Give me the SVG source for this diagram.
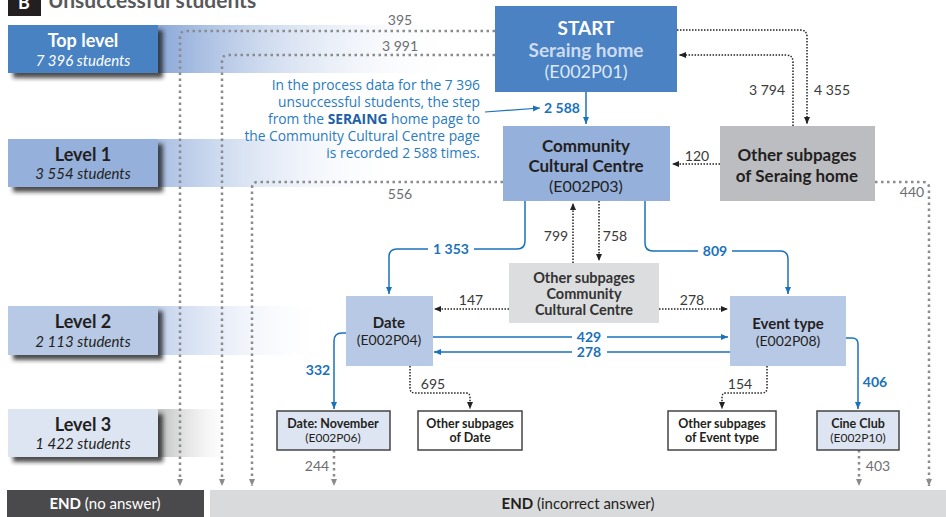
<svg xmlns="http://www.w3.org/2000/svg" width="946" height="517" viewBox="0 0 946 517">
<style>
text{font-family:Lato,"Liberation Sans",sans-serif}
.lvl{font-size:18px;font-weight:700;text-anchor:middle}
.lvs{font-size:15px;font-style:italic;text-anchor:middle}
.nd{font-weight:700;text-anchor:middle}
.code{font-weight:400;text-anchor:middle}
.gl{font-size:14px;fill:#6d6e70;text-anchor:middle}
.kl{font-size:14px;fill:#3a3a3a;text-anchor:middle}
.bl{font-size:14px;fill:#1a72bb;font-weight:700;text-anchor:middle}
.blue{fill:none;stroke:#1a72bb;stroke-width:1.5;marker-end:url(#ab)}
.dk{fill:none;stroke:#222;stroke-width:1.5;stroke-dasharray:1.5 1.5;marker-end:url(#ak)}
.gr{fill:none;stroke:#8a8b8d;stroke-width:2.5;stroke-dasharray:2.5 3.5;stroke-linecap:butt;marker-end:url(#ag)}
.box3{stroke:#444;stroke-width:1.5}
.ann{font-size:13.8px;fill:#2a7bbf;text-anchor:end;font-family:"Open Sans","DejaVu Sans",sans-serif}
</style>
<defs>
<marker id="ab" markerWidth="8" markerHeight="8" refX="7" refY="4" orient="auto" markerUnits="userSpaceOnUse"><path d="M0,1 L7,4 L0,7 Z" fill="#1a72bb"/></marker>
<marker id="ak" markerWidth="8" markerHeight="8" refX="7" refY="4" orient="auto" markerUnits="userSpaceOnUse"><path d="M0,1 L7,4 L0,7 Z" fill="#222"/></marker>
<marker id="ag" markerWidth="8" markerHeight="8" refX="7" refY="4" orient="auto" markerUnits="userSpaceOnUse"><path d="M0,1 L7,4 L0,7 Z" fill="#8a8b8d"/></marker>
<linearGradient id="g0" x1="0" x2="1" y1="0" y2="0"><stop offset="0" stop-color="#8ba8d8"/><stop offset="1" stop-color="#fff" stop-opacity="0"/></linearGradient>
<linearGradient id="g1" x1="0" x2="1" y1="0" y2="0"><stop offset="0" stop-color="#a9bfe3"/><stop offset="1" stop-color="#fff" stop-opacity="0"/></linearGradient>
<linearGradient id="g2" x1="0" x2="1" y1="0" y2="0"><stop offset="0" stop-color="#c3d2ec"/><stop offset="1" stop-color="#fff" stop-opacity="0"/></linearGradient>
<linearGradient id="g3" x1="0" x2="1" y1="0" y2="0"><stop offset="0" stop-color="#bdbebf"/><stop offset="1" stop-color="#fff" stop-opacity="0"/></linearGradient>
<filter id="sh" x="-10%" y="-20%" width="130%" height="160%"><feDropShadow dx="5" dy="5" stdDeviation="2" flood-color="#222" flood-opacity="0.8"/></filter>
</defs>

<g id="title">
<rect x="8" y="-6" width="33" height="22" fill="#231f20"/>
<text x="24" y="9" font-size="18" font-weight="700" fill="#fff" text-anchor="middle">B</text>
<text x="48" y="8" font-size="21" font-weight="700" fill="#58595b">Unsuccessful students</text>
</g>

<g id="bands">
<rect x="158" y="25" width="300" height="48" fill="url(#g0)"/>
<rect x="158" y="139" width="250" height="48" fill="url(#g1)"/>
<rect x="158" y="306" width="170" height="49" fill="url(#g2)"/>
<rect x="158" y="409" width="80" height="48" fill="url(#g3)"/>
</g>

<g id="level-top">
<rect x="8" y="25" width="150" height="48" fill="#4a82c3" filter="url(#sh)"/>
<text class="lvl" x="83" y="47" fill="#fff">Top level</text>
<text class="lvs" x="83" y="66" fill="#fff">7 396 students</text>
</g>
<g id="level-1">
<rect x="8" y="139" width="150" height="48" fill="#95b0db" filter="url(#sh)"/>
<text class="lvl" x="83" y="161" fill="#231f20">Level 1</text>
<text class="lvs" x="83" y="179" fill="#231f20">3 554 students</text>
</g>
<g id="level-2">
<rect x="8" y="306" width="150" height="49" fill="#b8c9e6" filter="url(#sh)"/>
<text class="lvl" x="83" y="328" fill="#231f20">Level 2</text>
<text class="lvs" x="83" y="347" fill="#231f20">2 113 students</text>
</g>
<g id="level-3">
<rect x="8" y="409" width="150" height="48" fill="#dde5f3" filter="url(#sh)"/>
<text class="lvl" x="83" y="431" fill="#231f20">Level 3</text>
<text class="lvs" x="83" y="449" fill="#231f20">1 422 students</text>
</g>

<g id="end-none">
<rect x="7" y="490" width="197" height="27" fill="#4a4a4c"/>
<text x="105" y="509" font-size="15" fill="#fff" text-anchor="middle"><tspan font-weight="700">END</tspan> (no answer)</text>
</g>
<g id="end-incorrect">
<rect x="210" y="490" width="736" height="27" fill="#d9dadc"/>
<text x="578" y="509" font-size="15" fill="#231f20" text-anchor="middle"><tspan font-weight="700">END</tspan> (incorrect answer)</text>
</g>

<g id="connectors">
<path class="blue" d="M586,92 V124"/>
<path class="dk" d="M677,30 H800 Q807,30 807,37 V124"/>
<path class="dk" d="M793,126 V62 Q793,55 786,55 H679"/>
<path class="dk" d="M720,164 H672"/>
<path class="gr" d="M495,31 H186 Q180,31 180,37 V486"/>
<path class="gr" d="M495,55 H228 Q222,55 222,61 V486"/>
<path class="gr" d="M503,182 H258 Q252,182 252,188 V486"/>
<path class="gr" d="M875,182 H923 Q929,182 929,188 V486"/>
<path class="blue" d="M525,201 V241 Q525,249 517,249 H474 M428,249 H397 Q389,249 389,257 V294"/>
<path class="blue" d="M645,201 V243 Q645,251 653,251 H698 M732,251 H780 Q788,251 788,259 V294"/>
<path class="dk" d="M573,263 V203"/>
<path class="dk" d="M599,201 V261"/>
<path class="dk" d="M509,309 H434"/>
<path class="dk" d="M659,309 H728"/>
<path class="blue" d="M432,337 H572 M607,337 H728"/>
<path class="blue" d="M730,352 H607 M572,352 H434"/>
<path class="blue" d="M346,333 H342 Q334,333 334,341 V409"/>
<path class="dk" d="M410,366 V388 Q410,393 415,393 H466 Q470,393 470,397 V409"/>
<path class="dk" d="M767,366 V388 Q767,393 762,393 H726 Q722,393 722,397 V409"/>
<path class="blue" d="M846,338 H852 Q858,338 858,344 V409"/>
<path class="gr" d="M334,450 V486"/>
<path class="gr" d="M859,450 V486"/>
<path d="M485,112 L540,108" fill="none" stroke="#1a72bb" stroke-width="1.2" marker-end="url(#ab)"/>
</g>

<g id="connector-labels">
<text class="gl" x="400" y="25">395</text>
<text class="gl" x="400" y="51">3 991</text>
<text class="gl" x="400" y="199">556</text>
<text class="gl" x="912" y="197">440</text>
<text class="gl" x="317" y="471">244</text>
<text class="gl" x="878" y="471">403</text>
<text class="kl" x="767" y="95">3 794</text>
<text class="kl" x="832" y="95">4 355</text>
<text class="kl" x="697" y="161">120</text>
<text class="kl" x="556" y="241">799</text>
<text class="kl" x="615" y="241">758</text>
<text class="kl" x="471" y="305">147</text>
<text class="kl" x="692" y="305">278</text>
<text class="kl" x="433" y="389">695</text>
<text class="kl" x="740" y="389">154</text>
<text class="bl" x="562" y="113">2 588</text>
<text class="bl" x="451" y="254">1 353</text>
<text class="bl" x="715" y="256">809</text>
<text class="bl" x="589" y="341.5" font-size="13.5">429</text>
<text class="bl" x="589" y="357" font-size="13.5">278</text>
<text class="bl" x="318" y="375">332</text>
<text class="bl" x="875" y="387">406</text>
</g>

<g id="annotation">
<text class="ann" x="480" y="90">In the process data for the 7 396</text>
<text class="ann" x="480" y="107">unsuccessful students, the step</text>
<text class="ann" x="480" y="124">from the <tspan font-weight="700" fill="#1e5fa8">SERAING</tspan> home page to</text>
<text class="ann" x="480" y="141">the Community Cultural Centre page</text>
<text class="ann" x="480" y="158">is recorded 2 588 times.</text>
</g>

<g id="start">
<rect x="495" y="6" width="182" height="86" fill="#4a82c3"/>
<text class="nd" x="586" y="35" font-size="19" fill="#fff">START</text>
<text class="nd" x="586" y="57" font-size="19" fill="#cddbf0">Seraing home</text>
<text class="code" x="586" y="78" font-size="18" fill="#dfe8f5">(E002P01)</text>
</g>
<g id="ccc">
<rect x="503" y="126" width="167" height="75" fill="#95b0db"/>
<text class="nd" x="586" y="152" font-size="17" fill="#231f20">Community</text>
<text class="nd" x="586" y="172" font-size="17" fill="#231f20">Cultural Centre</text>
<text class="code" x="586" y="192" font-size="16" fill="#231f20">(E002P03)</text>
</g>
<g id="other-seraing">
<rect x="720" y="126" width="155" height="75" fill="#bcbdc0"/>
<text class="nd" x="797" y="161" font-size="17" fill="#231f20">Other subpages</text>
<text class="nd" x="797" y="182" font-size="17" fill="#231f20">of Seraing home</text>
</g>
<g id="other-ccc">
<rect x="509" y="263" width="150" height="60" fill="#dcdddf"/>
<text class="nd" x="584" y="283" font-size="14.5" fill="#333">Other subpages</text>
<text class="nd" x="584" y="299" font-size="14.5" fill="#333">Community</text>
<text class="nd" x="584" y="315" font-size="14.5" fill="#333">Cultural Centre</text>
</g>
<g id="date">
<rect x="346" y="296" width="87" height="70" fill="#b8c9e6"/>
<text class="nd" x="389" y="328" font-size="15" fill="#231f20">Date</text>
<text class="code" x="389" y="345" font-size="14" fill="#231f20">(E002P04)</text>
</g>
<g id="event-type">
<rect x="730" y="296" width="116" height="70" fill="#b8c9e6"/>
<text class="nd" x="788" y="329" font-size="15" fill="#231f20">Event type</text>
<text class="code" x="788" y="346" font-size="14" fill="#231f20">(E002P08)</text>
</g>
<g id="date-november">
<rect class="box3" x="277" y="411" width="113" height="39" fill="#dde5f3"/>
<text class="nd" x="333" y="428" font-size="12.5" fill="#231f20">Date: November</text>
<text class="code" x="333" y="442" font-size="12" fill="#231f20">(E002P06)</text>
</g>
<g id="other-date">
<rect class="box3" x="418" y="411" width="104" height="39" fill="#fff"/>
<text class="nd" x="470" y="428" font-size="12.5" fill="#231f20">Other subpages</text>
<text class="nd" x="470" y="442" font-size="12.5" fill="#231f20">of Date</text>
</g>
<g id="other-event">
<rect class="box3" x="668" y="411" width="108" height="39" fill="#fff"/>
<text class="nd" x="722" y="428" font-size="12.5" fill="#231f20">Other subpages</text>
<text class="nd" x="722" y="442" font-size="12.5" fill="#231f20">of Event type</text>
</g>
<g id="cine-club">
<rect class="box3" x="817" y="411" width="82" height="39" fill="#dde5f3"/>
<text class="nd" x="858" y="428" font-size="12.5" fill="#231f20">Cine Club</text>
<text class="code" x="858" y="442" font-size="12" fill="#231f20">(E002P10)</text>
</g>
</svg>
